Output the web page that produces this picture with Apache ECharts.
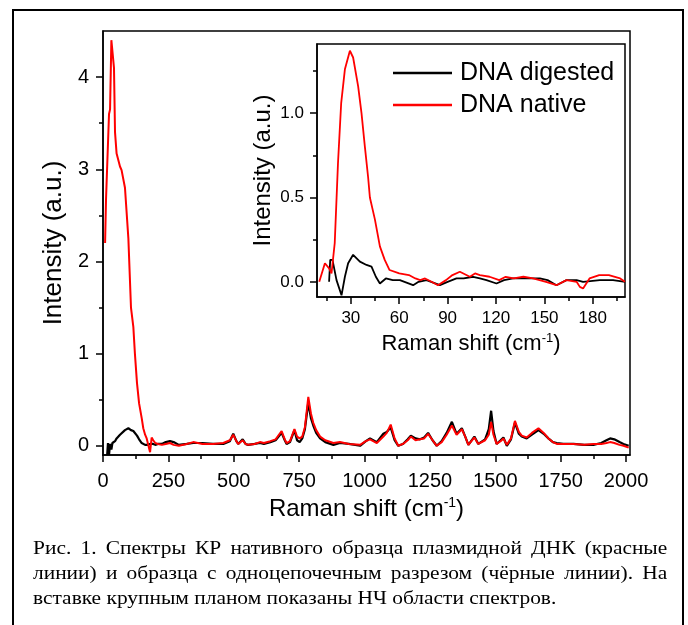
<!DOCTYPE html>
<html>
<head>
<meta charset="utf-8">
<title>Raman spectra DNA</title>
<script src="https://cdn.jsdelivr.net/npm/echarts@6/dist/echarts.min.js"></script>
<style>
    body, html { margin: 0; padding: 0; background: #fff; overflow: hidden; }
    #chart { position: absolute; left: 0; top: 0; width: 688px; height: 625px; }
    .frame {
        position: absolute; left: 12px; top: 9px; width: 668px; height: 640px;
        border: 2px solid #000; border-bottom: none; pointer-events: none;
    }
    /* the caption in the source picture is stretched sideways, so scale it the same way */
    .caption {
        position: absolute; left: 33px; top: 536px; width: 533px;
        transform: scaleX(1.19); transform-origin: 0 0;
        font-family: "Liberation Serif", "Times New Roman", serif;
        font-size: 18px; line-height: 25px; color: #000;
    }
    .caption .j { text-align: justify; text-align-last: justify; }
</style>
</head>
<body>
<div id="chart"></div>
<div class="frame"></div>
<div class="caption">
    <div class="j">Рис. 1. Спектры КР нативного образца плазмидной ДНК (красные</div>
    <div class="j">линии) и образца с одноцепочечным разрезом (чёрные линии). На</div>
    <div>вставке крупным планом показаны НЧ области спектров.</div>
</div>

<script>
// main spectrum, 0-2000 cm-1
var mainShift = [8, 11.5, 16, 19, 23, 27, 32, 36, 42, 46, 52, 65, 71, 84, 97, 107, 116, 122, 130, 138,
    148, 154, 161, 167, 172, 180, 186, 192, 200, 210, 225, 240, 256, 270, 290, 320, 345, 380, 421, 460,
    485, 498, 510, 517, 534, 545, 555, 580, 600, 615, 640, 660, 683, 695, 702, 715, 732, 742, 752, 762,
    772, 785, 795, 804, 815, 830, 850, 881, 906, 940, 983, 1005, 1021, 1047, 1072, 1085, 1100, 1115, 1129, 1147,
    1165, 1177, 1195, 1212, 1228, 1243, 1260, 1276, 1295, 1314, 1334, 1352, 1372, 1385, 1397, 1420, 1435, 1461, 1475, 1484,
    1493, 1505, 1520, 1531, 1544, 1560, 1575, 1590, 1601, 1620, 1640, 1665, 1685, 1703, 1720, 1735, 1760, 1799, 1840, 1875,
    1905, 1925, 1939, 1955, 1975, 1990, 2010];
var mainNative = [2.2, 2.67, 2.67, 2.67, 3.6, 3.65, 4.4, 4.38, 4.1, 3.4, 3.17, 3.03, 2.99, 2.8, 2.25, 1.5, 1.29, 1.0, 0.68, 0.46,
    0.3, 0.19, 0.12, 0.08, 0.1, -0.07, 0.09, 0.06, 0.03, 0.02, 0.01, 0.02, 0.03, 0.01, 0.0, 0.02, 0.04, 0.02, 0.02, 0.03,
    0.06, 0.12, 0.05, 0.02, 0.06, 0.02, 0.01, 0.02, 0.04, 0.03, 0.05, 0.07, 0.16, 0.07, 0.03, 0.05, 0.18, 0.1, 0.08, 0.1,
    0.2, 0.53, 0.35, 0.25, 0.17, 0.1, 0.06, 0.03, 0.04, 0.02, 0.01, 0.05, 0.07, 0.03, 0.1, 0.14, 0.23, 0.08, 0.0, 0.02,
    0.06, 0.1, 0.06, 0.07, 0.08, 0.13, 0.06, 0.0, 0.04, 0.12, 0.22, 0.12, 0.18, 0.1, 0.01, 0.09, 0.02, 0.06, 0.12, 0.26,
    0.12, 0.02, 0.05, 0.08, 0.01, 0.08, 0.27, 0.15, 0.11, 0.09, 0.14, 0.19, 0.14, 0.08, 0.04, 0.02, 0.02, 0.02, 0.01, 0.02,
    0.02, 0.03, 0.04, 0.03, 0.01, 0.0, -0.02];
var mainDigested = [null, null, -0.1, 0.03, -0.1, 0.02, -0.04, 0.03, 0.02, 0.05, 0.08, 0.12, 0.14, 0.17, 0.19, 0.17, 0.16, 0.14, 0.11, 0.07,
    0.03, 0.02, 0.01, 0.02, 0.01, 0.02, 0.01, 0.02, 0.01, 0.02, 0.02, 0.04, 0.05, 0.04, 0.01, 0.02, 0.03, 0.03, 0.02, 0.02,
    0.05, 0.13, 0.05, 0.02, 0.07, 0.02, 0.01, 0.02, 0.03, 0.02, 0.04, 0.06, 0.14, 0.06, 0.02, 0.04, 0.17, 0.06, 0.04, 0.08,
    0.18, 0.47, 0.3, 0.22, 0.14, 0.08, 0.04, 0.01, 0.03, 0.02, 0.0, 0.05, 0.08, 0.04, 0.13, 0.15, 0.2, 0.06, 0.0, 0.02,
    0.07, 0.11, 0.08, 0.07, 0.09, 0.14, 0.06, 0.0, 0.05, 0.14, 0.26, 0.13, 0.19, 0.1, 0.01, 0.1, 0.02, 0.07, 0.18, 0.38,
    0.16, 0.02, 0.06, 0.09, 0.0, 0.07, 0.25, 0.13, 0.1, 0.08, 0.12, 0.17, 0.13, 0.08, 0.04, 0.03, 0.02, 0.02, 0.01, 0.01,
    0.03, 0.06, 0.08, 0.07, 0.04, 0.02, 0.0];

// inset, low-frequency region
var insetShiftNative = [10.4, 13.9, 16.5, 18, 20, 22, 24, 26.3, 29.4, 31.4, 34.5, 36.6, 38.7, 40.7, 41.8, 44.9, 48, 51, 54, 60,
    66, 70, 73, 76, 80, 84, 89, 93, 97.6, 103.8, 107, 110, 116, 122, 126, 131, 137, 143, 151, 157.5,
    163.7, 170, 172, 174, 176, 178, 184, 190, 197, 200];
var insetNative = [0.0, 0.11, 0.08, 0.05, 0.23, 0.7, 1.06, 1.26, 1.37, 1.33, 1.16, 1.0, 0.8, 0.62, 0.5, 0.37, 0.21, 0.13, 0.07, 0.05,
    0.04, 0.02, 0.01, 0.02, 0.0, -0.02, 0.01, 0.04, 0.06, 0.03, 0.05, 0.04, 0.03, 0.01, 0.03, 0.02, 0.03, 0.02, 0.0, -0.02,
    0.01, 0.0, -0.03, -0.04, -0.01, 0.02, 0.04, 0.04, 0.02, 0.0];
var insetShiftDigested = [16.5, 17.2, 18.6, 21.1, 24.2, 26.3, 28.3, 31.4, 35.6, 39.7, 42.8, 45.5, 48, 51.7, 56, 60.4, 68.6, 72, 76.9, 85.2,
    90, 95.5, 100, 105.8, 110, 114.1, 120.3, 125, 130.6, 141, 147.2, 152, 157.5, 163.7, 170, 174, 184.4, 192.6, 200];
var insetDigested = [0.0, 0.13, 0.13, 0.01, -0.08, 0.03, 0.11, 0.16, 0.12, 0.1, 0.09, 0.03, -0.01, 0.02, 0.01, 0.01, -0.02, 0.0, 0.01, -0.02,
    0.0, 0.02, 0.02, 0.03, 0.02, 0.01, -0.01, 0.01, 0.02, 0.02, 0.02, 0.01, -0.02, 0.01, 0.01, 0.0, 0.01, 0.01, 0.0];

// ticks
var mainXTicks = [0, 250, 500, 750, 1000, 1250, 1500, 1750, 2000];
var mainXMinor = [125, 375, 625, 875, 1125, 1375, 1625, 1875];
var mainYTicks = [0, 1, 2, 3, 4];
var mainYMinor = [0.5, 1.5, 2.5, 3.5];
var insetXTicks = [30, 60, 90, 120, 150, 180];
var insetXMinor = [15, 45, 75, 105, 135, 165, 195];
var insetYTicks = [0, 0.5, 1.0];
var insetYMinor = [0.25, 0.75, 1.25];

var seriesNames = ['DNA digested', 'DNA native'];

var FONT = '"Liberation Sans", Arial, sans-serif';

function pairs(xs, ys) {
    return xs.map(function (x, i) { return [x, ys[i]]; });
}

function axis(gridIndex, min, max, ticks, opts) {
    var a = {
        type: 'value',
        gridIndex: gridIndex,
        min: min,
        max: max,
        splitLine: { show: false },
        axisLine: { show: true, onZero: false, lineStyle: { color: '#000', width: 1.5 } },
        axisTick: { show: true, customValues: ticks, length: 7, lineStyle: { color: '#000', width: 1.5 } },
        axisLabel: {
            show: true, customValues: ticks, margin: opts.margin,
            fontSize: opts.fontSize, fontFamily: FONT, color: '#000',
            formatter: opts.formatter || function (v) { return String(v); }
        }
    };
    if (opts.name) {
        a.name = opts.name;
        a.nameLocation = 'middle';
        a.nameGap = opts.nameGap;
        a.nameTextStyle = opts.nameTextStyle;
    }
    if (opts.position) a.position = opts.position;
    return a;
}

function minorAxis(gridIndex, min, max, ticks, position) {
    return {
        type: 'value',
        gridIndex: gridIndex,
        min: min,
        max: max,
        position: position,
        offset: 0,
        splitLine: { show: false },
        axisLine: { show: false, onZero: false },
        axisLabel: { show: false },
        axisTick: { show: true, customValues: ticks, length: 4, lineStyle: { color: '#000', width: 1.5 } }
    };
}

var xName = function (size, sup) {
    return {
        fontSize: size, fontFamily: FONT, color: '#000',
        rich: {
            a: { fontSize: size, fontFamily: FONT, color: '#000' },
            s: { fontSize: sup, fontFamily: FONT, color: '#000', padding: [0, 0, Math.round(size * 0.5), 0] }
        }
    };
};

var chart = echarts.init(document.getElementById('chart'));

var option = {
    backgroundColor: 'transparent',
    animation: false,
    grid: [
        { left: 103, top: 31, right: 58, bottom: 170, show: true, borderColor: '#000', borderWidth: 1.5 },
        { left: 317, top: 44, right: 63, bottom: 328, show: true, borderColor: '#000', borderWidth: 1.5, backgroundColor: '#fff' }
    ],
    xAxis: [
        axis(0, 0, 2015, mainXTicks, {
            margin: 16, fontSize: 20, position: 'bottom',
            name: '{a|Raman shift (cm}{s|-1}{a|)}', nameGap: 40, nameTextStyle: xName(24, 14)
        }),
        minorAxis(0, 0, 2015, mainXMinor, 'bottom'),
        axis(1, 9, 200, insetXTicks, {
            margin: 13, fontSize: 17, position: 'bottom',
            name: '{a|Raman shift (cm}{s|-1}{a|)}', nameGap: 35, nameTextStyle: xName(22, 13)
        }),
        minorAxis(1, 9, 200, insetXMinor, 'bottom')
    ],
    yAxis: [
        axis(0, -0.1, 4.5, mainYTicks, {
            margin: 14, fontSize: 20, position: 'left',
            name: 'Intensity (a.u.)', nameGap: 35,
            nameTextStyle: { fontSize: 26, fontFamily: FONT, color: '#000' }
        }),
        minorAxis(0, -0.1, 4.5, mainYMinor, 'left'),
        axis(1, -0.09, 1.41, insetYTicks, {
            margin: 13, fontSize: 17, position: 'left',
            formatter: function (v) { return v.toFixed(1); },
            name: 'Intensity (a.u.)', nameGap: 42,
            nameTextStyle: { fontSize: 24, fontFamily: FONT, color: '#000' }
        }),
        minorAxis(1, -0.09, 1.41, insetYMinor, 'left')
    ],
    legend: {
        data: seriesNames,
        orient: 'vertical',
        left: 393,
        top: 58,
        padding: 0,
        icon: 'rect',
        itemWidth: 59,
        itemHeight: 2.5,
        itemGap: 2,
        textStyle: { fontSize: 25, fontFamily: FONT, color: '#000', lineHeight: 30, padding: [0, 0, 0, 3] }
    },
    series: [
        {
            name: seriesNames[0], type: 'line', xAxisIndex: 0, yAxisIndex: 0,
            data: pairs(mainShift, mainDigested), symbol: 'none', z: 2,
            lineStyle: { color: '#000', width: 2.2 }, itemStyle: { color: '#000' }
        },
        {
            name: seriesNames[1], type: 'line', xAxisIndex: 0, yAxisIndex: 0,
            data: pairs(mainShift, mainNative), symbol: 'none', z: 3,
            lineStyle: { color: '#ff0000', width: 2 }, itemStyle: { color: '#ff0000' }
        },
        {
            name: seriesNames[0], type: 'line', xAxisIndex: 2, yAxisIndex: 2,
            data: pairs(insetShiftDigested, insetDigested), symbol: 'none', z: 2,
            lineStyle: { color: '#000', width: 1.8 }, itemStyle: { color: '#000' }
        },
        {
            name: seriesNames[1], type: 'line', xAxisIndex: 2, yAxisIndex: 2,
            data: pairs(insetShiftNative, insetNative), symbol: 'none', z: 3,
            lineStyle: { color: '#ff0000', width: 1.8 }, itemStyle: { color: '#ff0000' }
        }
    ]
};
chart.setOption(option);
</script>
</body>
</html>
